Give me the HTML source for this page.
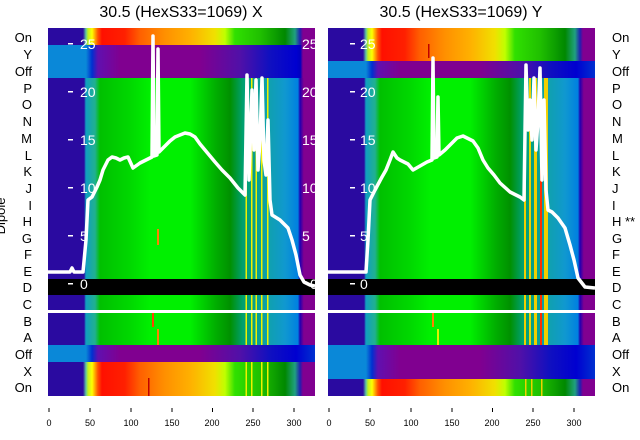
<!DOCTYPE html>
<html><head><meta charset="utf-8"><style>
html,body{margin:0;padding:0;background:#fff;}
svg{display:block;font-family:"Liberation Sans","DejaVu Sans",sans-serif;}
</style></head><body>
<svg width="640" height="440" viewBox="0 0 640 440" xmlns="http://www.w3.org/2000/svg">
<defs>
<linearGradient id="rb" gradientUnits="userSpaceOnUse" x1="48" y1="0" x2="315" y2="0">
<stop offset="0" stop-color="#2a0aa0"/>
<stop offset="0.131" stop-color="#2a0aa0"/>
<stop offset="0.142" stop-color="#60c8a0"/>
<stop offset="0.150" stop-color="#c0f020"/>
<stop offset="0.165" stop-color="#ffff00"/>
<stop offset="0.187" stop-color="#ff5000"/>
<stop offset="0.202" stop-color="#ff1000"/>
<stop offset="0.288" stop-color="#ff2000"/>
<stop offset="0.345" stop-color="#ff6000"/>
<stop offset="0.438" stop-color="#ff9000"/>
<stop offset="0.532" stop-color="#ffb000"/>
<stop offset="0.625" stop-color="#f0e000"/>
<stop offset="0.663" stop-color="#c0ff00"/>
<stop offset="0.700" stop-color="#30e000"/>
<stop offset="0.794" stop-color="#20c000"/>
<stop offset="0.888" stop-color="#008800"/>
<stop offset="0.925" stop-color="#20a080"/>
<stop offset="0.944" stop-color="#2020b0"/>
<stop offset="0.955" stop-color="#800090"/>
<stop offset="1" stop-color="#800090"/>
</linearGradient>
<linearGradient id="bp" gradientUnits="userSpaceOnUse" x1="48" y1="0" x2="315" y2="0">
<stop offset="0" stop-color="#0a88d8"/>
<stop offset="0.142" stop-color="#0a88d8"/>
<stop offset="0.165" stop-color="#0030d0"/>
<stop offset="0.187" stop-color="#6010b0"/>
<stop offset="0.270" stop-color="#800090"/>
<stop offset="0.570" stop-color="#800090"/>
<stop offset="0.720" stop-color="#5010a8"/>
<stop offset="0.830" stop-color="#1010c0"/>
<stop offset="0.93" stop-color="#0000d0"/>
<stop offset="0.945" stop-color="#0000c0"/>
<stop offset="0.955" stop-color="#800090"/>
<stop offset="1" stop-color="#800090"/>
</linearGradient>
<linearGradient id="bp2" gradientUnits="userSpaceOnUse" x1="48" y1="0" x2="315" y2="0">
<stop offset="0" stop-color="#0a88d8"/>
<stop offset="0.142" stop-color="#0a88d8"/>
<stop offset="0.165" stop-color="#0030d0"/>
<stop offset="0.187" stop-color="#6010b0"/>
<stop offset="0.270" stop-color="#800090"/>
<stop offset="0.570" stop-color="#800090"/>
<stop offset="0.720" stop-color="#5010a8"/>
<stop offset="0.830" stop-color="#1010c0"/>
<stop offset="0.93" stop-color="#0000d0"/>
<stop offset="1" stop-color="#0030d0"/>
</linearGradient>
<linearGradient id="gr" gradientUnits="userSpaceOnUse" x1="48" y1="0" x2="315" y2="0">
<stop offset="0" stop-color="#2a0aa0"/>
<stop offset="0.135" stop-color="#2a0aa0"/>
<stop offset="0.142" stop-color="#10a0c0"/>
<stop offset="0.176" stop-color="#20b090"/>
<stop offset="0.195" stop-color="#00c000"/>
<stop offset="0.307" stop-color="#00d800"/>
<stop offset="0.382" stop-color="#00f000"/>
<stop offset="0.532" stop-color="#00f000"/>
<stop offset="0.625" stop-color="#00b000"/>
<stop offset="0.682" stop-color="#009000"/>
<stop offset="0.730" stop-color="#00a070"/>
<stop offset="0.830" stop-color="#10a0b0"/>
<stop offset="0.888" stop-color="#1098d0"/>
<stop offset="0.936" stop-color="#0080e0"/>
<stop offset="0.944" stop-color="#2000b0"/>
<stop offset="0.958" stop-color="#800090"/>
<stop offset="1" stop-color="#800090"/>
</linearGradient>
<clipPath id="cp"><rect x="48" y="28" width="267" height="368"/></clipPath>
</defs>

<text x="181" y="17" font-size="16" text-anchor="middle">30.5 (HexS33=1069) X</text>
<text x="461" y="17" font-size="16" text-anchor="middle">30.5 (HexS33=1069) Y</text>

<!-- LEFT PANEL -->
<g clip-path="url(#cp)">
<rect x="48" y="28" width="267" height="17" fill="url(#rb)"/>
<rect x="48" y="45" width="267" height="33" fill="url(#bp)"/>
<rect x="48" y="78" width="267" height="201" fill="url(#gr)"/>
<rect x="48" y="279" width="267" height="16" fill="#000"/>
<rect x="48" y="295" width="267" height="50" fill="url(#gr)"/>
<rect x="48" y="345" width="267" height="17" fill="url(#bp2)"/>
<rect x="48" y="362" width="267" height="34" fill="url(#rb)"/>
<g fill="#f0f000">
<rect x="245.5" y="78" width="1.5" height="201"/><rect x="251" y="78" width="1.5" height="201"/>
<rect x="255.5" y="78" width="1.5" height="201"/><rect x="261" y="78" width="1.5" height="201"/>
<rect x="267" y="78" width="1.5" height="201"/>
<rect x="245.5" y="295" width="1.5" height="50"/><rect x="251" y="295" width="1.5" height="50"/>
<rect x="255.5" y="295" width="1.5" height="50"/><rect x="261" y="295" width="1.5" height="50"/>
<rect x="267" y="295" width="1.5" height="50"/>
<rect x="245.5" y="362" width="1.5" height="34"/><rect x="251" y="362" width="1.5" height="34"/>
<rect x="261" y="362" width="1.5" height="34"/><rect x="267" y="362" width="1.5" height="34"/>
</g>
<rect x="157" y="229" width="2" height="16" fill="#ff8000"/>
<rect x="152" y="313" width="2" height="14" fill="#ff4000"/>
<rect x="157" y="329" width="2" height="16" fill="#ff8000"/>
<rect x="148" y="378" width="1.5" height="18" fill="#c00000"/>
<rect x="48" y="310" width="267" height="3" fill="#fff"/>
<g fill="#fff" font-size="14">
<rect x="68" y="43" width="5" height="1.5"/><text x="80" y="49">25</text>
<rect x="68" y="91" width="5" height="1.5"/><text x="80" y="97">20</text>
<rect x="68" y="139" width="5" height="1.5"/><text x="80" y="145">15</text>
<rect x="68" y="187" width="5" height="1.5"/><text x="80" y="193">10</text>
<rect x="68" y="235" width="5" height="1.5"/><text x="80" y="241">5</text>
<rect x="68" y="283" width="5" height="1.5"/><text x="80" y="289">0</text>
<text x="302" y="49">25</text><text x="302" y="97">20</text><text x="302" y="145">15</text>
<text x="302" y="193">10</text><text x="302" y="241">5</text><text x="310" y="289">0</text>
</g>
<polyline fill="none" stroke="#fff" stroke-width="3.5" stroke-linejoin="round" points="48,272 70,272 72,268 74,272 83,272 86,240 88,200 92,197 97,187 100,180 103,170 108,160 112,157 116,158 120,160 124,158 128,157 133,168 140,163 146,160 150,158 152,157 153,36 154,156 157,155 158,49 159,152 163,148 170,141 175,137 180,135 185,133 190,134 195,137 200,144 205,150 210,156 215,162 222,170 230,178 238,188 245,195 247,75 249,180 252,90 254,150 256,80 258,170 260,140 262,78 264,160 266,175 268,120 270,200 272,215 280,220 288,228 292,240 296,255 300,275 304,282 310,285 315,286"/>
</g>

<!-- RIGHT PANEL -->
<g transform="translate(280,0)">
<g clip-path="url(#cp)">
<rect x="48" y="28" width="267" height="33" fill="url(#rb)"/>
<rect x="48" y="61" width="267" height="17" fill="url(#bp2)"/>
<rect x="48" y="78" width="267" height="201" fill="url(#gr)"/>
<rect x="48" y="279" width="267" height="16" fill="#000"/>
<rect x="48" y="295" width="267" height="50" fill="url(#gr)"/>
<rect x="48" y="345" width="267" height="34" fill="url(#bp2)"/>
<rect x="48" y="379" width="267" height="17" fill="url(#rb)"/>
<g fill="#f0d000">
<rect x="244" y="78" width="2" height="201"/><rect x="249" y="78" width="2" height="201"/>
<rect x="254" y="78" width="3" height="201"/><rect x="260" y="78" width="2" height="201" fill="#ff3000"/>
<rect x="264" y="78" width="4" height="201"/>
<rect x="244" y="295" width="2" height="50"/><rect x="249" y="295" width="2" height="50"/>
<rect x="254" y="295" width="3" height="50"/><rect x="260" y="295" width="2" height="50" fill="#ff3000"/>
<rect x="264" y="295" width="4" height="50"/>
<rect x="245" y="379" width="1.5" height="17"/><rect x="251" y="379" width="1.5" height="17"/>
<rect x="261" y="379" width="1.5" height="17"/>
</g>
<rect x="152" y="313" width="2" height="14" fill="#ff8000"/>
<rect x="157" y="329" width="2" height="16" fill="#e0f000"/>
<rect x="148" y="44" width="1.5" height="14" fill="#c00000"/>
<rect x="48" y="310" width="267" height="3" fill="#fff"/>
<g fill="#fff" font-size="14">
<rect x="70" y="43" width="5" height="1.5"/><text x="80" y="49">25</text>
<rect x="70" y="91" width="5" height="1.5"/><text x="80" y="97">20</text>
<rect x="70" y="139" width="5" height="1.5"/><text x="80" y="145">15</text>
<rect x="70" y="187" width="5" height="1.5"/><text x="80" y="193">10</text>
<rect x="70" y="235" width="5" height="1.5"/><text x="80" y="241">5</text>
<rect x="70" y="283" width="5" height="1.5"/><text x="80" y="289">0</text>
</g>
<polyline fill="none" stroke="#fff" stroke-width="3.5" stroke-linejoin="round" points="48,272 86,272 88,240 90,200 95,190 102,177 106,170 110,160 113,152 117,158 120,160 124,162 128,164 133,170 140,166 147,162 152,160 153,58 154,158 157,157 158,97 159,155 165,150 170,145 177,138 183,136 187,138 193,141 198,148 203,160 208,168 214,175 220,183 230,192 240,197 244,200 246,65 248,130 250,100 252,140 254,78 256,150 258,120 260,68 262,180 264,100 266,190 268,210 272,212 278,218 285,228 290,245 294,260 298,278 305,287 315,288"/>
</g>
</g>

<!-- left labels -->
<g font-size="13" text-anchor="end" fill="#000">
<text x="32" y="42">On</text><text x="32" y="59">Y</text><text x="32" y="76">Off</text>
<text x="32" y="93">P</text><text x="32" y="109">O</text><text x="32" y="126">N</text>
<text x="32" y="143">M</text><text x="32" y="160">L</text><text x="32" y="176">K</text>
<text x="32" y="193">J</text><text x="32" y="210">I</text><text x="32" y="226">H</text>
<text x="32" y="243">G</text><text x="32" y="259">F</text><text x="32" y="276">E</text>
<text x="32" y="292">D</text><text x="32" y="309">C</text><text x="32" y="326">B</text>
<text x="32" y="342">A</text><text x="32" y="359">Off</text><text x="32" y="376">X</text>
<text x="32" y="392">On</text>
</g>
<text transform="translate(5,216) rotate(-90)" font-size="13" text-anchor="middle">Dipole</text>
<!-- right labels -->
<g font-size="13" fill="#000">
<text x="612" y="42">On</text><text x="612" y="59">Y</text><text x="612" y="76">Off</text>
<text x="612" y="93">P</text><text x="612" y="109">O</text><text x="612" y="126">N</text>
<text x="612" y="143">M</text><text x="612" y="160">L</text><text x="612" y="176">K</text>
<text x="612" y="193">J</text><text x="612" y="210">I</text><text x="612" y="226">H **</text>
<text x="612" y="243">G</text><text x="612" y="259">F</text><text x="612" y="276">E</text>
<text x="612" y="292">D</text><text x="612" y="309">C</text><text x="612" y="326">B</text>
<text x="612" y="342">A</text><text x="612" y="359">Off</text><text x="612" y="376">X</text>
<text x="612" y="392">On</text>
</g>
<!-- x ticks -->
<g font-size="9" text-anchor="middle" fill="#000">
<g>
<rect x="48.5" y="408" width="1" height="4"/><text x="49" y="426">0</text>
<rect x="89.5" y="408" width="1" height="4"/><text x="90" y="426">50</text>
<rect x="130.5" y="408" width="1" height="4"/><text x="131" y="426">100</text>
<rect x="171.5" y="408" width="1" height="4"/><text x="172" y="426">150</text>
<rect x="212" y="408" width="1" height="4"/><text x="212" y="426">200</text>
<rect x="252.5" y="408" width="1" height="4"/><text x="253" y="426">250</text>
<rect x="293.5" y="408" width="1" height="4"/><text x="294" y="426">300</text>
</g>
<g transform="translate(280,0)">
<rect x="48.5" y="408" width="1" height="4"/><text x="49" y="426">0</text>
<rect x="89.5" y="408" width="1" height="4"/><text x="90" y="426">50</text>
<rect x="130.5" y="408" width="1" height="4"/><text x="131" y="426">100</text>
<rect x="171.5" y="408" width="1" height="4"/><text x="172" y="426">150</text>
<rect x="212" y="408" width="1" height="4"/><text x="212" y="426">200</text>
<rect x="252.5" y="408" width="1" height="4"/><text x="253" y="426">250</text>
<rect x="293.5" y="408" width="1" height="4"/><text x="294" y="426">300</text>
</g>
</g>
</svg>
</body></html>
